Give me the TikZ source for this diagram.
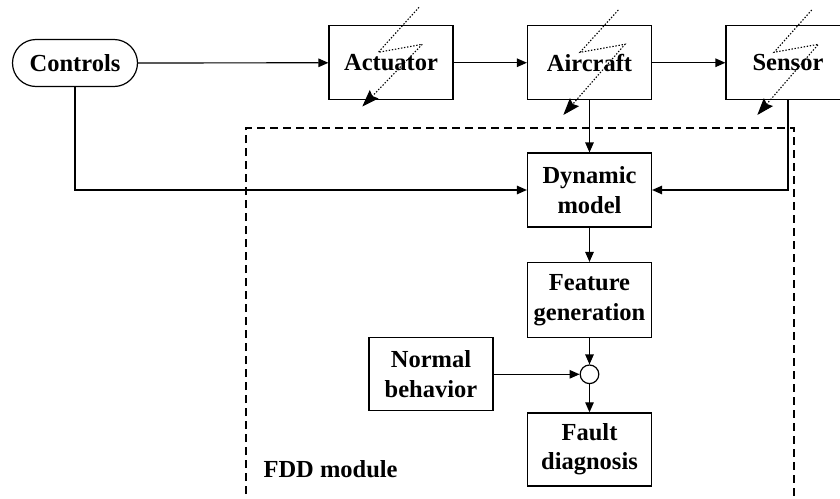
\documentclass[tikz,border=0pt]{standalone}
\usepackage{fontspec}
\setmainfont{Liberation Serif}
\usetikzlibrary{arrows.meta,shapes.misc,calc}

\tikzset{
  every node/.style={font=\bfseries\fontsize{24.5}{29.5}\selectfont, align=center},
  blockbox/.style={draw, line width=1.2pt, minimum width=124pt, minimum height=74pt, inner sep=0pt},
  flow/.style={line width=1.2pt, -{Triangle[length=10pt,width=8.5pt]}},
  bolt/.style={line width=1.1pt, dash pattern=on 1.4pt off 1.7pt,
               -{Stealth[length=17pt,width=12pt,inset=2.5pt,sep=0pt]}},
  frame/.style={line width=1.1pt, dash pattern=on 8pt off 5pt},
}

\begin{document}
\begin{tikzpicture}[x=1pt, y=-1pt]
  \useasboundingbox (0,0) rectangle (840,498);
  \clip (0,0) rectangle (840,498);

  % FDD module frame (open towards the bottom)
  \draw[frame] (246,520) -- (246,128) -- (794,128) -- (794,520);
  \node[anchor=base west] (fddlabel) at (260,477) {FDD module};

  % top chain
  \node[draw, line width=1.2pt, rounded rectangle, minimum width=125pt, minimum height=47pt, inner sep=0pt]
       (ctrl) at (75,63) {Controls};
  \node[blockbox] (act) at (391,62.75) {Actuator};
  \node[blockbox] (air) at (589.5,62.75) {Aircraft};
  \node[blockbox] (sen) at (788,62.75) {Sensor};

  % FDD blocks
  \node[blockbox] (dyn)   at (589.5,190)   {Dynamic\\model};
  \node[blockbox, minimum height=75pt] (feat)  at (589.5,300)   {Feature\\generation};
  \node[draw, circle, line width=1.2pt, minimum size=18.6pt, inner sep=0pt] (sum) at (589.5,374.3) {};
  \node[blockbox, minimum height=73pt] (norm)  at (431,374.3)   {Normal\\behavior};
  \node[blockbox, minimum height=73pt] (fault) at (589.5,449.4) {Fault\\diagnosis};

  % signal flow
  \draw[flow] (ctrl) -- (act);
  \draw[flow] (act) -- (air);
  \draw[flow] (air) -- (sen);
  \draw[flow] (air.south) -- (dyn.north);
  \draw[flow] (ctrl.south) |- (dyn.west);
  \draw[flow] (sen.south) |- (dyn.east);
  \draw[flow] (dyn.south) -- (feat.north);
  \draw[flow] (feat.south) -- (sum.north);
  \draw[flow] (norm.east) -- (sum.west);
  \draw[flow] (sum.south) -- (fault.north);

  % fault bolts through the plant components
  \draw[bolt] (419,7.3) -- (378.3,52.3) -- (422.3,44.3) -- (362.3,106.5);
  \draw[bolt] (618.3,10) -- (580,52.3) -- (625,44.3) -- (563.3,115);
  \draw[bolt] (811.7,10) -- (774,52.3) -- (818.3,44.3) -- (757.3,115);
\end{tikzpicture}
\end{document}
